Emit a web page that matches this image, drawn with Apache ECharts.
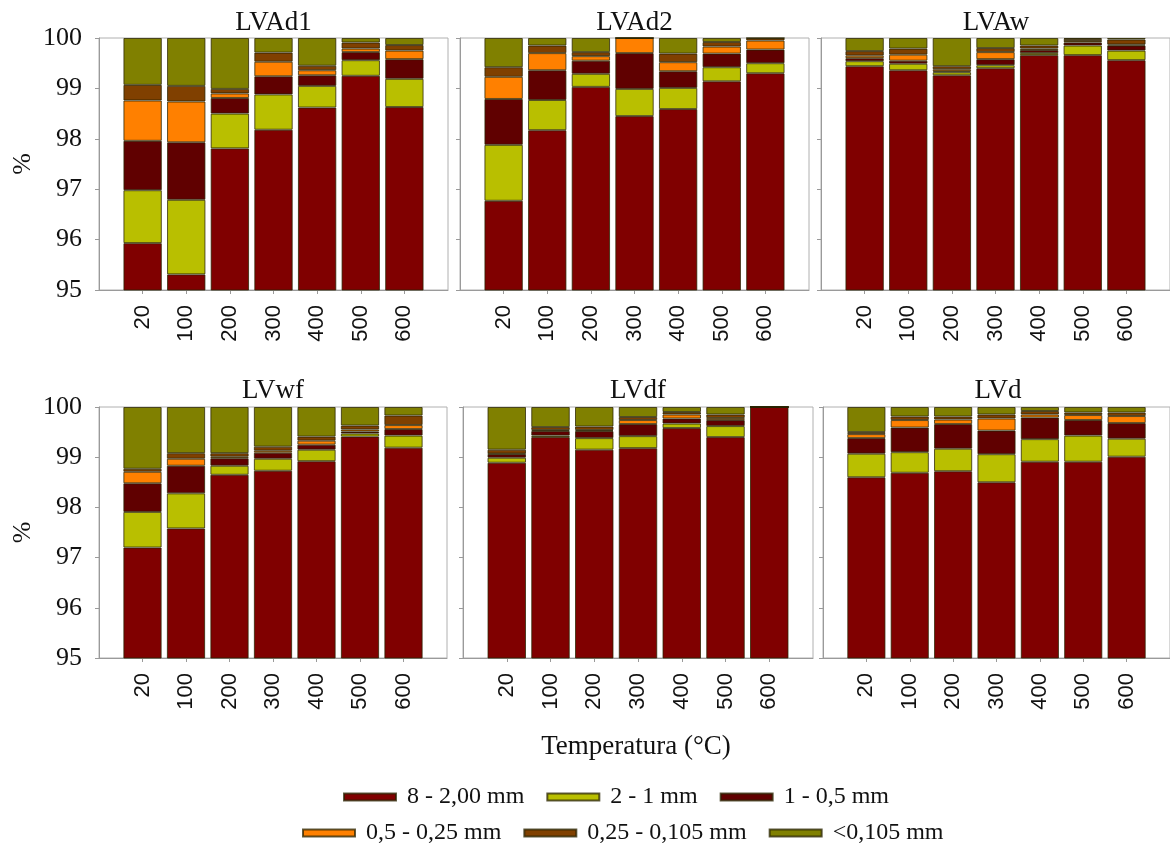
<!DOCTYPE html>
<html><head><meta charset="utf-8">
<script src="https://cdn.jsdelivr.net/npm/echarts@6/dist/echarts.min.js"></script>
<style>html,body{margin:0;padding:0;background:#fff}#c{width:1170px;height:844px}</style>
</head><body><div id="c"></div>
<script>
// ---- data ----
const temperatures = ['20', '100', '200', '300', '400', '500', '600'];
const fractions = ['8 - 2,00 mm', '2 - 1 mm', '1 - 0,5 mm', '0,5 - 0,25 mm', '0,25 - 0,105 mm', '<0,105 mm'];
const panelNames = ['LVAd1', 'LVAd2', 'LVAw', 'LVwf', 'LVdf', 'LVd'];
const yTicks = [95, 96, 97, 98, 99, 100];
const xAxisTitle = 'Temperatura (°C)';
const yAxisTitle = '%';

// each row = one size fraction (order of `fractions`), each column = one temperature
const LVAd1 = [
  [95.93, 95.31, 97.81, 98.18, 98.62, 99.25, 98.63],
  [1.05, 1.48, 0.69, 0.70, 0.43, 0.31, 0.56],
  [0.98, 1.14, 0.31, 0.36, 0.21, 0.16, 0.39],
  [0.80, 0.81, 0.09, 0.29, 0.10, 0.07, 0.17],
  [0.31, 0.31, 0.09, 0.18, 0.09, 0.12, 0.11],
  [0.93, 0.95, 1.01, 0.29, 0.55, 0.09, 0.14]
];
const LVAd2 = [
  [96.77, 98.17, 99.03, 98.45, 98.59, 99.14, 99.30],
  [1.11, 0.60, 0.26, 0.54, 0.42, 0.28, 0.20],
  [0.91, 0.59, 0.26, 0.71, 0.33, 0.27, 0.27],
  [0.44, 0.34, 0.09, 0.30, 0.18, 0.14, 0.18],
  [0.19, 0.15, 0.08, 0.00, 0.17, 0.09, 0.05],
  [0.58, 0.15, 0.28, 0.00, 0.31, 0.08, 0.00]
];
const LVAw = [
  [99.44, 99.36, 99.26, 99.40, 99.66, 99.66, 99.56],
  [0.10, 0.13, 0.06, 0.06, 0.04, 0.19, 0.19],
  [0.06, 0.06, 0.02, 0.12, 0.06, 0.06, 0.10],
  [0.05, 0.12, 0.04, 0.14, 0.03, 0.03, 0.02],
  [0.09, 0.12, 0.06, 0.08, 0.06, 0.04, 0.10],
  [0.26, 0.21, 0.56, 0.20, 0.15, 0.02, 0.03]
];
const LVwf = [
  [97.20, 97.58, 98.65, 98.73, 98.92, 99.41, 99.19],
  [0.71, 0.70, 0.18, 0.24, 0.23, 0.06, 0.24],
  [0.57, 0.55, 0.15, 0.12, 0.10, 0.04, 0.13],
  [0.23, 0.14, 0.03, 0.04, 0.08, 0.04, 0.08],
  [0.06, 0.11, 0.07, 0.08, 0.08, 0.08, 0.19],
  [1.23, 0.92, 0.92, 0.79, 0.59, 0.37, 0.17]
];
const LVdf = [
  [98.89, 99.40, 99.15, 99.18, 99.58, 99.40, 100.00],
  [0.10, 0.03, 0.23, 0.24, 0.09, 0.22, 0.00],
  [0.07, 0.09, 0.14, 0.24, 0.10, 0.12, 0.00],
  [0.01, 0.02, 0.02, 0.08, 0.08, 0.04, 0.00],
  [0.08, 0.06, 0.07, 0.06, 0.05, 0.07, 0.00],
  [0.85, 0.40, 0.39, 0.20, 0.10, 0.15, 0.00]
];
const LVd = [
  [98.60, 98.69, 98.72, 98.50, 98.91, 98.91, 99.01],
  [0.47, 0.41, 0.45, 0.56, 0.45, 0.52, 0.36],
  [0.31, 0.49, 0.49, 0.47, 0.43, 0.31, 0.31],
  [0.08, 0.15, 0.09, 0.24, 0.06, 0.10, 0.14],
  [0.04, 0.07, 0.06, 0.08, 0.07, 0.05, 0.07],
  [0.50, 0.19, 0.19, 0.15, 0.08, 0.11, 0.11]
];
const panelData = [LVAd1, LVAd2, LVAw, LVwf, LVdf, LVd];

// ---- styling / layout ----
const colors = ['#800000', '#B9BF00', '#600000', '#FF8000', '#804000', '#808000'];
const grids = [
  {left: 99, top: 38, width: 349, height: 252},
  {left: 460, top: 38, width: 349, height: 252},
  {left: 821, top: 38, width: 350, height: 252},
  {left: 99, top: 407, width: 348, height: 251},
  {left: 463, top: 407, width: 350, height: 251},
  {left: 823, top: 407, width: 350, height: 251}
];
const serif = "'Liberation Serif', 'Times New Roman', serif";
const sans = "'Liberation Sans', Arial, sans-serif";
const axisGray = '#9a9a9a';

const xCats = [''].concat(temperatures, ['']);

const option = {
  animation: false,
  backgroundColor: '#fff',
  grid: grids.map(g => Object.assign({show: true, borderColor: '#b0b0b0', borderWidth: 1, backgroundColor: 'transparent', containLabel: false}, g)),
  xAxis: grids.map((g, i) => ({
    type: 'category', gridIndex: i, data: xCats, boundaryGap: false,
    axisLine: {show: true, lineStyle: {color: axisGray, width: 1}},
    axisTick: {show: true, length: 4, inside: false, lineStyle: {color: axisGray}, interval: (idx) => idx > 0 && idx < xCats.length - 1},
    axisLabel: {show: true, interval: 0, rotate: 90, margin: 15, fontFamily: sans, fontSize: 22, color: '#111'},
    splitLine: {show: false}
  })),
  yAxis: grids.map((g, i) => {
    const showLab = (i === 0 || i === 3);
    return {
      type: 'value', gridIndex: i, min: yTicks[0], max: yTicks[yTicks.length - 1], interval: 1,
      name: showLab ? yAxisTitle : '', nameLocation: 'middle', nameRotate: 90, nameGap: 63,
      nameTextStyle: {fontFamily: serif, fontSize: 26, color: '#111'},
      axisLine: {show: true, lineStyle: {color: axisGray, width: 1}},
      axisTick: {show: true, length: 4, inside: false, lineStyle: {color: axisGray}},
      axisLabel: {show: showLab, margin: 17, fontFamily: serif, fontSize: 26, color: '#111'},
      splitLine: {show: false}
    };
  }),
  legend: [
    {
      data: fractions.slice(0, 3), left: 338, top: 780, orient: 'horizontal',
      icon: 'rect', itemWidth: 52, itemHeight: 7, itemGap: 22,
      textStyle: {fontFamily: serif, fontSize: 24, color: '#111', padding: [0, 0, 0, 6]},
      selectedMode: false
    },
    {
      data: fractions.slice(3), left: 297, top: 816, orient: 'horizontal',
      icon: 'rect', itemWidth: 52, itemHeight: 7, itemGap: 22,
      textStyle: {fontFamily: serif, fontSize: 24, color: '#111', padding: [0, 0, 0, 6]},
      selectedMode: false
    }
  ],
  graphic: panelNames.map((name, i) => ({
    type: 'text',
    x: grids[i].left + grids[i].width / 2,
    y: i < 3 ? 23 : 391,
    style: {text: name, font: '27px ' + serif, fill: '#111', align: 'center', verticalAlign: 'middle'}
  })).concat([{
    type: 'text', x: 636, y: 747,
    style: {text: xAxisTitle, font: '27px ' + serif, fill: '#111', align: 'center', verticalAlign: 'middle'}
  }]),
  series: []
};

panelData.forEach((pd, p) => {
  fractions.forEach((fr, f) => {
    option.series.push({
      type: 'bar', name: fr, xAxisIndex: p, yAxisIndex: p, stack: 'panel' + p,
      data: ['-'].concat(pd[f], ['-']),
      barWidth: '88%',
      itemStyle: {color: colors[f], borderColor: 'rgba(40,35,0,0.75)', borderWidth: 1},
      emphasis: {disabled: true}
    });
  });
});

const chart = echarts.init(document.getElementById('c'), null, {renderer: 'canvas'});
chart.setOption(option);
</script>
</body></html>
